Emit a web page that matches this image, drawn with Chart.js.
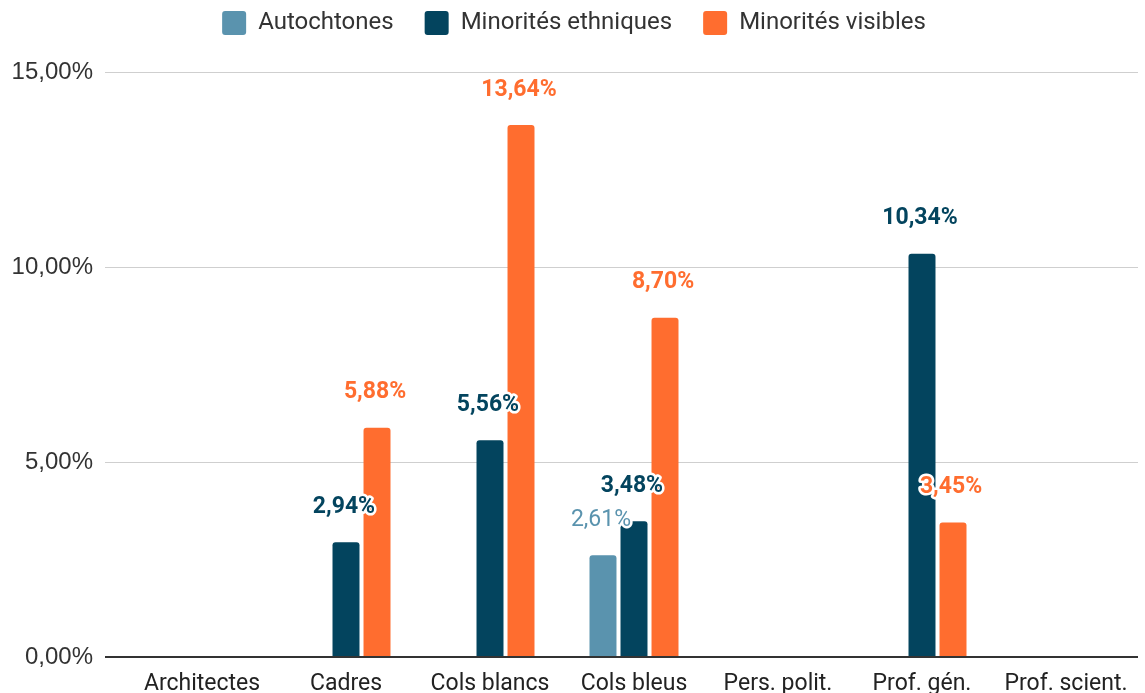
<!DOCTYPE html>
<html>
<head>
<meta charset="utf-8">
<script src="https://cdn.jsdelivr.net/npm/chart.js@4/dist/chart.umd.min.js"></script>
<style>
  html, body { margin: 0; padding: 0; background: #fff; }
  #wrap { width: 1145px; height: 693px; }
</style>
</head>
<body>
<div id="wrap"><canvas id="chart"></canvas></div>
<script>
const categories = ['Architectes', 'Cadres', 'Cols blancs', 'Cols bleus', 'Pers. polit.', 'Prof. gén.', 'Prof. scient.'];
const autochtones = [null, null, null, 2.61, null, null, null];
const minoritesEthniques = [null, 2.94, 5.56, 3.48, null, 10.34, null];
const minoritesVisibles = [null, 5.88, 13.64, 8.70, null, 3.45, null];
const yTicks = [0, 5, 10, 15];

const fmt = v => v.toFixed(2).replace('.', ',') + '%';

// etiquettes de valeur au-dessus des barres
const valueLabels = {
    id: 'valueLabels',
    afterDatasetsDraw(chart) {
        const ctx = chart.ctx;
        chart.data.datasets.forEach((ds, i) => {
            const meta = chart.getDatasetMeta(i);
            meta.data.forEach((bar, j) => {
                const v = ds.data[j];
                if (v == null) return;
                ctx.save();
                ctx.font = (ds.labelBold ? 'bold ' : '') + '23px Roboto';
                ctx.textAlign = 'center';
                ctx.textBaseline = 'middle';
                ctx.lineJoin = 'round';
                ctx.lineWidth = 5;
                ctx.strokeStyle = '#fff';
                ctx.strokeText(fmt(v), bar.x - 2, bar.y - 35);
                ctx.fillStyle = ds.backgroundColor;
                ctx.fillText(fmt(v), bar.x - 2, bar.y - 35);
                ctx.restore();
            });
        });
    }
};

// plus d'espace sous la légende
const legendGap = {
    id: 'legendGap',
    beforeInit(chart) {
        const fit = chart.legend.fit;
        chart.legend.fit = function () {
            fit.bind(chart.legend)();
            this.height = 92;
        };
    }
};

new Chart(document.getElementById('chart'), {
    type: 'bar',
    data: {
        labels: categories,
        datasets: [
            { label: 'Autochtones', data: autochtones, backgroundColor: '#5a93ae', labelBold: false },
            { label: 'Minorités ethniques', data: minoritesEthniques, backgroundColor: '#03445e', labelBold: true },
            { label: 'Minorités visibles', data: minoritesVisibles, backgroundColor: '#ff6d2f', labelBold: true }
        ].map(d => Object.assign(d, {
            categoryPercentage: 0.646,
            barPercentage: 0.87,
            borderRadius: { topLeft: 3, topRight: 3 },
            borderSkipped: 'bottom'
        }))
    },
    options: {
        responsive: true,
        maintainAspectRatio: false,
        animation: false,
        layout: { padding: { left: 10, right: 7, top: -20, bottom: 0 } },
        plugins: {
            tooltip: { enabled: false },
            legend: {
                position: 'top',
                labels: {
                    font: { family: 'Roboto', size: 24 },
                    color: '#333',
                    boxWidth: 24,
                    boxHeight: 24,
                    useBorderRadius: true,
                    borderRadius: 3,
                    padding: 31
                }
            }
        },
        scales: {
            x: {
                grid: { display: false },
                border: { display: false },
                ticks: {
                    font: { family: 'Roboto', size: 23 },
                    color: '#222',
                    padding: 5,
                    maxRotation: 0,
                    autoSkip: false
                },
                afterFit: s => { s.height = 36; }
            },
            y: {
                min: 0,
                max: 15,
                afterBuildTicks: s => { s.ticks = yTicks.map(v => ({ value: v })); },
                border: { display: false },
                grid: {
                    color: c => c.tick && c.tick.value === 0 ? '#333' : '#cfcfcf',
                    lineWidth: c => c.tick && c.tick.value === 0 ? 2 : 1,
                    tickLength: 25
                },
                ticks: {
                    font: { family: 'Liberation Sans', size: 24 },
                    color: '#333',
                    padding: 12,
                    callback: v => v.toFixed(2).replace('.', ',') + '%'
                },
                afterFit: s => { s.width = 120; }
            }
        }
    },
    plugins: [valueLabels, legendGap]
});
</script>
</body>
</html>
